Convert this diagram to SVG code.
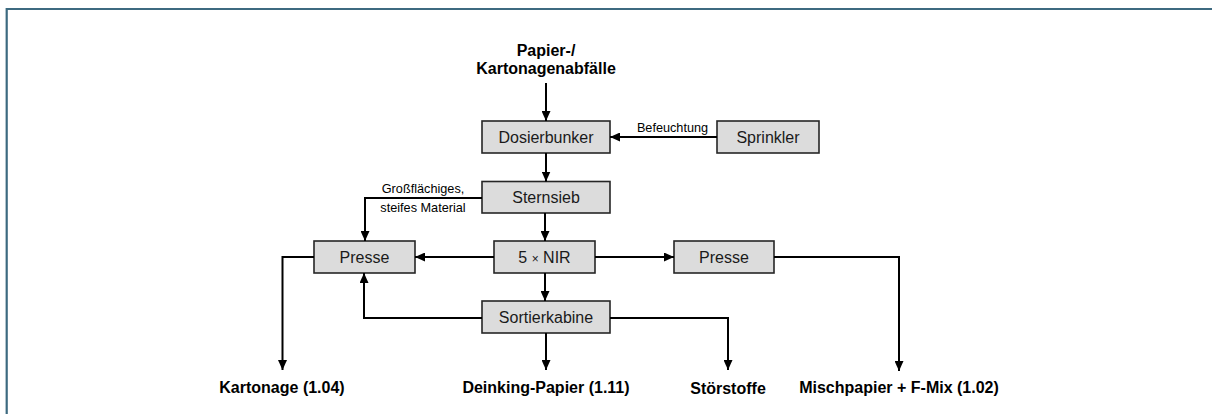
<svg xmlns="http://www.w3.org/2000/svg" width="1212" height="414" viewBox="0 0 1212 414">
  <style>
    .box { fill: #dcdcdc; stroke: #262626; stroke-width: 1.6; }
    .lbl { font-family: "Liberation Sans", Arial, sans-serif; font-size: 16px; fill: #1a1a1a; text-anchor: middle; }
    .bold { font-family: "Liberation Sans", Arial, sans-serif; font-size: 16px; font-weight: bold; fill: #000; text-anchor: middle; }
    .small { font-family: "Liberation Sans", Arial, sans-serif; font-size: 12.7px; fill: #000; text-anchor: middle; }
    .wire { fill: none; stroke: #000; stroke-width: 2; }
    .frame { fill: none; stroke: #3d6a80; stroke-width: 2.2; }
  </style>
  <defs>
    <marker id="arrow" markerUnits="userSpaceOnUse" markerWidth="10" markerHeight="9" refX="10" refY="4.5" orient="auto">
      <path d="M0,0 L10,4.5 L0,9 z" fill="#000"/>
    </marker>
  </defs>

  <rect width="1212" height="414" fill="#ffffff"/>
  <!-- page frame: top and left rule -->
  <path class="frame" d="M6.7,414 V9 H1212"/>

  <!-- inputs and outputs -->
  <g id="input">
    <text class="bold" x="546" y="56">Papier-/</text>
    <text class="bold" x="546" y="74">Kartonagenabfälle</text>
  </g>
  <g id="out-kartonage"><text class="bold" x="282" y="393">Kartonage (1.04)</text></g>
  <g id="out-deinking"><text class="bold" x="546" y="393">Deinking-Papier (1.11)</text></g>
  <g id="out-stoerstoffe"><text class="bold" x="728" y="394">Störstoffe</text></g>
  <g id="out-mischpapier"><text class="bold" x="899" y="393">Mischpapier + F-Mix (1.02)</text></g>

  <!-- process units -->
  <g id="dosierbunker">
    <rect class="box" x="482" y="121" width="128" height="32"/>
    <text class="lbl" x="546" y="142.6">Dosierbunker</text>
  </g>
  <g id="sprinkler">
    <rect class="box" x="717" y="121" width="102" height="32"/>
    <text class="lbl" x="768" y="142.6">Sprinkler</text>
  </g>
  <g id="sternsieb">
    <rect class="box" x="482" y="181.5" width="128" height="31.5"/>
    <text class="lbl" x="546" y="202.8">Sternsieb</text>
  </g>
  <g id="presse-links">
    <rect class="box" x="314" y="241" width="101" height="32"/>
    <text class="lbl" x="364.5" y="262.6">Presse</text>
  </g>
  <g id="nir">
    <rect class="box" x="494" y="241" width="101" height="32"/>
    <text class="lbl" x="544.5" y="262.6">5 <tspan font-size="12">×</tspan> NIR</text>
  </g>
  <g id="presse-rechts">
    <rect class="box" x="674" y="241" width="100" height="32"/>
    <text class="lbl" x="724" y="262.6">Presse</text>
  </g>
  <g id="sortierkabine">
    <rect class="box" x="482" y="301" width="128" height="32"/>
    <text class="lbl" x="546" y="322.6">Sortierkabine</text>
  </g>

  <!-- connectors -->
  <g id="connectors">
    <path class="wire" d="M546,83 V121" marker-end="url(#arrow)"/>
    <path class="wire" d="M717,137 H610" marker-end="url(#arrow)"/>
    <path class="wire" d="M546,153 V181.5" marker-end="url(#arrow)"/>
    <path class="wire" d="M482,198 H365 V241" marker-end="url(#arrow)"/>
    <path class="wire" d="M545,213 V241" marker-end="url(#arrow)"/>
    <path class="wire" d="M494,257 H415" marker-end="url(#arrow)"/>
    <path class="wire" d="M595,257 H674" marker-end="url(#arrow)"/>
    <path class="wire" d="M545,273 V301" marker-end="url(#arrow)"/>
    <path class="wire" d="M482,318 H364 V273" marker-end="url(#arrow)"/>
    <path class="wire" d="M314,257 H282.5 V370" marker-end="url(#arrow)"/>
    <path class="wire" d="M774,257 H899 V371" marker-end="url(#arrow)"/>
    <path class="wire" d="M546,333 V370" marker-end="url(#arrow)"/>
    <path class="wire" d="M610,318 H728 V370" marker-end="url(#arrow)"/>
    <text class="small" x="672.5" y="132">Befeuchtung</text>
    <text class="small" x="423" y="193">Großflächiges,</text>
    <text class="small" x="423" y="211.5">steifes Material</text>
  </g>
</svg>
